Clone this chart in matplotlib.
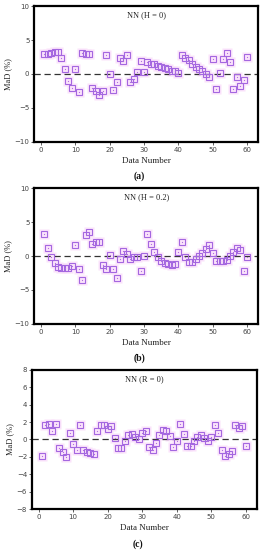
import matplotlib
matplotlib.use("Agg")
import matplotlib.pyplot as plt
import numpy as np

data_number = list(range(1, 61))

mad_a = [2.9, 2.9, 3.1, 3.2, 3.2, 2.4, 0.7, -1.0, -2.1, 0.8,
         -2.6, 3.1, 3.0, 2.9, -2.1, -2.5, -3.1, -2.5, 2.8, 0.0,
         -2.3, -1.2, 2.4, 1.9, 2.8, -1.2, -0.8, 0.3, 1.9, 0.3,
         1.7, 1.5, 1.4, 1.2, 1.1, 0.9, 0.7, 0.5, 0.4, 0.1,
         2.8, 2.4, 2.0, 1.5, 1.1, 0.8, 0.5, 0.05, -0.4, 2.2,
         -2.2, 0.2, 2.2, 3.1, 1.8, -2.2, -0.4, -1.7, -0.9, 2.5]

mad_b = [3.3, 1.2, -0.2, -1.0, -1.6, -1.8, -1.8, -1.7, -1.5, 1.6,
         -1.9, -3.5, 3.1, 3.5, 1.8, 2.1, 2.0, -1.3, -1.9, 0.2,
         -1.9, -3.2, -0.4, 0.7, 0.3, -0.5, -0.2, -0.1, -2.2, 0.05,
         3.2, 1.8, 0.6, -0.2, -0.7, -1.0, -1.2, -1.3, -1.2, 0.6,
         2.1, -0.15, -0.9, -0.9, -0.5, 0.05, 0.5, 1.1, 1.6, 0.4,
         -0.7, -0.7, -0.8, -0.6, 0.0, 0.6, 1.2, 0.9, -2.2, -0.15]

mad_c = [-1.9, 1.7, 1.8, 1.0, 1.8, -1.0, -1.4, -2.0, 0.7, -0.5,
         -1.2, 1.7, -1.2, -1.5, -1.6, -1.7, 1.0, 1.7, 1.7, 1.2,
         1.6, 0.2, -1.0, -1.0, -0.2, 0.5, 0.6, 0.3, 0.0, 0.7,
         1.0, -0.9, -1.2, -0.4, 0.5, 1.1, 1.0, 0.4, -0.9, -0.2,
         1.8, 0.6, -0.7, -0.7, -0.2, 0.3, 0.5, 0.2, -0.2, 0.3,
         1.7, 0.7, -1.2, -1.9, -1.7, -1.3, 1.7, 1.3, 1.6, -0.7]

titles = ["NN (H = 0)", "NN (H = 0.2)", "NN (R = 0)"]
panel_labels = ["(a)", "(b)", "(c)"]
x_ticks = [0, 10, 20, 30, 40, 50, 60]
y_ticks_ab = [-10, -5, 0, 5, 10]
y_ticks_c = [-8, -6, -4, -2, 0, 2, 4, 6, 8]

serif = ["Liberation Serif", "DejaVu Serif"]

fig = plt.figure(figsize=(2.64, 5.5), dpi=100)

positions = [
    [0.130, 0.742, 0.848, 0.247],
    [0.130, 0.411, 0.848, 0.247],
    [0.121, 0.0745, 0.852, 0.253],
]
series = [mad_a, mad_b, mad_c]
ylims = [(-10, 10), (-10, 10), (-8, 8)]
yticks = [y_ticks_ab, y_ticks_ab, y_ticks_c]

for pos, vals, ttl, lab, yl, yt in zip(positions, series, titles, panel_labels, ylims, yticks):
    ax = fig.add_axes(pos)
    ax.plot(data_number, vals, linestyle="none", marker="s", markersize=7.5,
            markerfacecolor="#fbe3fb", markeredgecolor="none", zorder=1)
    ax.plot(data_number, vals, linestyle="none", marker="s", markersize=4.2,
            markerfacecolor="none", markeredgecolor="#a467e0", markeredgewidth=0.8, zorder=3)
    ax.plot(data_number, vals, linestyle="none", marker="s", markersize=0.8,
            markerfacecolor="#b070e0", markeredgecolor="none", zorder=4)
    ax.axhline(0, color="#333333", linestyle=(0, (5, 3)), linewidth=0.9, zorder=2)
    ax.set_xlim(-1.9, 63.2)
    ax.set_ylim(*yl)
    ax.set_xticks(x_ticks)
    ax.set_yticks(yt)
    ax.tick_params(axis="both", direction="out", length=2, width=0.6,
                   labelsize=5, colors="#444444", pad=1.5)
    for sp in ax.spines.values():
        sp.set_linewidth(1.6)
        sp.set_color("black")
    ax.text(0.5, 0.93, ttl, transform=ax.transAxes, ha="center", va="center",
            fontsize=6, family=serif, color="#222222")
    ax.set_xlabel("Data Number", fontsize=6.5, family=serif, labelpad=3, color="#222222")
    ax.set_ylabel("MaD (%)", fontsize=6, family=serif, labelpad=2, color="#222222")
    ax.text(0.47, -0.25, lab, transform=ax.transAxes, ha="center", va="center",
            fontsize=7, family=serif, fontweight="bold", color="#111111")

fig.savefig("out.png", dpi=100)
